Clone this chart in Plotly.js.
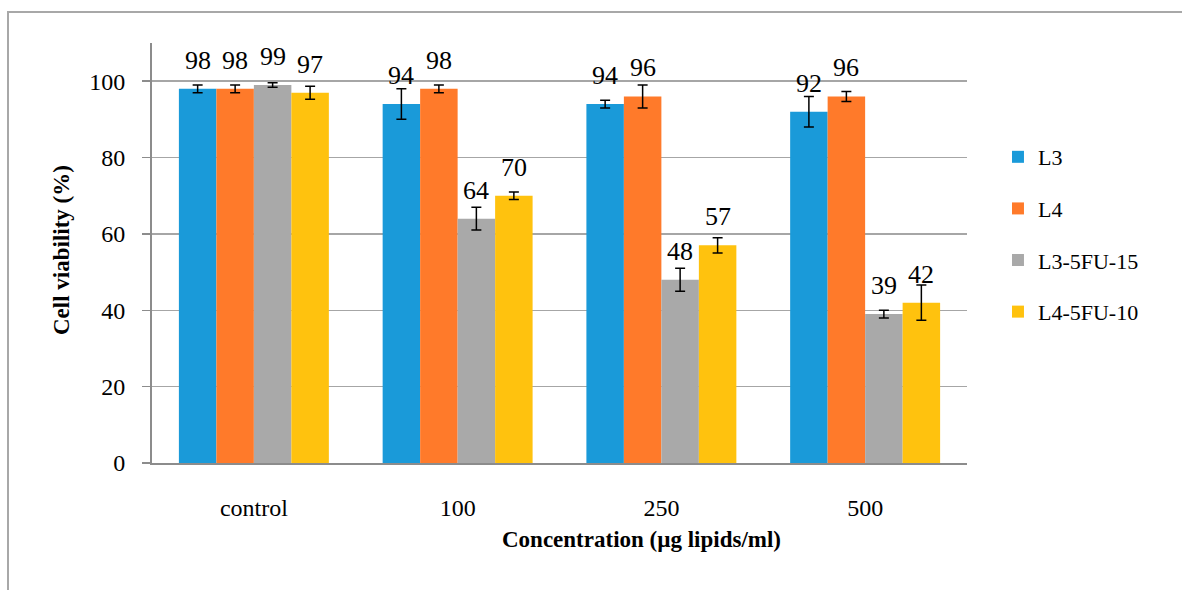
<!DOCTYPE html>
<html>
<head>
<meta charset="utf-8">
<script src="https://cdn.plot.ly/plotly-3.0.1.min.js"></script>
<style>
  html, body { margin: 0; padding: 0; background: #fff; }
  #wrap { position: relative; width: 1182px; height: 590px; overflow: hidden; }
  #chart { position: absolute; left: 0; top: 0; width: 1182px; height: 590px; }
  #frame { position: absolute; left: 7px; top: 11px; width: 1200px; height: 600px;
           border-top: 2px solid #a8a8a8; border-left: 2px solid #a8a8a8; pointer-events: none; }
</style>
</head>
<body>
<div id="wrap"><div id="chart"></div><div id="frame"></div></div>
<script>
// ---- data ----
const categories = ["control", "100", "250", "500"];
const seriesNames = ["L3", "L4", "L3-5FU-15", "L4-5FU-10"];
const L3 = [98, 94, 94, 92];
const L4 = [98, 98, 96, 96];
const L3_5FU_15 = [99, 64, 48, 39];
const L4_5FU_10 = [97, 70, 57, 42];
const L3_err = [1, 4, 1, 4];
const L4_err = [1, 1, 3, 1.3];
const L3_5FU_15_err = [0.6, 3, 3, 1];
const L4_5FU_10_err = [1.7, 1, 2, 4.6];
const yTicks = [0, 20, 40, 60, 80, 100];

const values = [L3, L4, L3_5FU_15, L4_5FU_10];
const errors = [L3_err, L4_err, L3_5FU_15_err, L4_5FU_10_err];
const colors = ["#1a9ad9", "#ff7a2a", "#a9a9a9", "#ffc20e"];

const FONT = "Liberation Serif";
const bargap = 0.264;
const barW = (1 - bargap) / seriesNames.length;

const traces = seriesNames.map((name, i) => ({
  type: "bar",
  name: name,
  legendgroup: name,
  x: categories,
  y: values[i],
  marker: { color: colors[i], line: { width: 0 } },
  error_y: { type: "data", array: errors[i], visible: true, color: "#000", thickness: 1.5, width: 5 },
  hoverinfo: "none"
}));

const annotations = [];
values.forEach((vals, i) => {
  vals.forEach((v, j) => {
    annotations.push({
      x: j + (i - (seriesNames.length - 1) / 2) * barW,
      y: v, xref: "x", yref: "y",
      text: String(v), showarrow: false,
      yanchor: "bottom", yshift: 12,
      font: { family: FONT, size: 26, color: "#000" }
    });
  });
});
annotations.push({
  xref: "paper", yref: "paper", x: 0.601, y: -0.183,
  text: "<b>Concentration (µg lipids/ml)</b>", showarrow: false,
  xanchor: "center", yanchor: "middle",
  font: { family: FONT, size: 23, color: "#000" }
});
annotations.push({
  xref: "paper", yref: "paper", x: -0.1117, y: 0.507,
  text: "<b>Cell viability (%)</b>", showarrow: false, textangle: -90,
  xanchor: "center", yanchor: "middle",
  font: { family: FONT, size: 23, color: "#000" }
});

const layout = {
  width: 1182, height: 590,
  margin: { l: 152, r: 215, t: 43, b: 127 },
  paper_bgcolor: "#fff", plot_bgcolor: "#fff",
  font: { family: FONT, color: "#000" },
  barmode: "group", bargap: bargap, bargroupgap: 0,
  showlegend: true,
  legend: {
    x: 1.038, y: 0.544, xanchor: "left", yanchor: "middle",
    font: { family: FONT, size: 22, color: "#000" },
    tracegroupgap: 20, itemwidth: 30, traceorder: "grouped"
  },
  xaxis: {
    type: "category", categoryarray: categories,
    showline: true, linecolor: "#8c8c8c", linewidth: 2,
    ticks: "", showgrid: false, zeroline: false,
    tickfont: { family: FONT, size: 24, color: "#000" },
    ticklabelstandoff: 22
  },
  yaxis: {
    range: [0, 110], tickvals: yTicks, ticktext: yTicks.map(String),
    showline: true, linecolor: "#8c8c8c", linewidth: 2,
    ticks: "outside", ticklen: 8, tickcolor: "#8c8c8c", tickwidth: 1.5,
    showgrid: true, gridcolor: "#a6a6a6", gridwidth: 1.5, zeroline: false,
    tickfont: { family: FONT, size: 24, color: "#000" },
    ticklabelstandoff: 12
  },
  annotations: annotations
};

Plotly.newPlot("chart", traces, layout, { staticPlot: true, displayModeBar: false });
</script>
</body>
</html>
